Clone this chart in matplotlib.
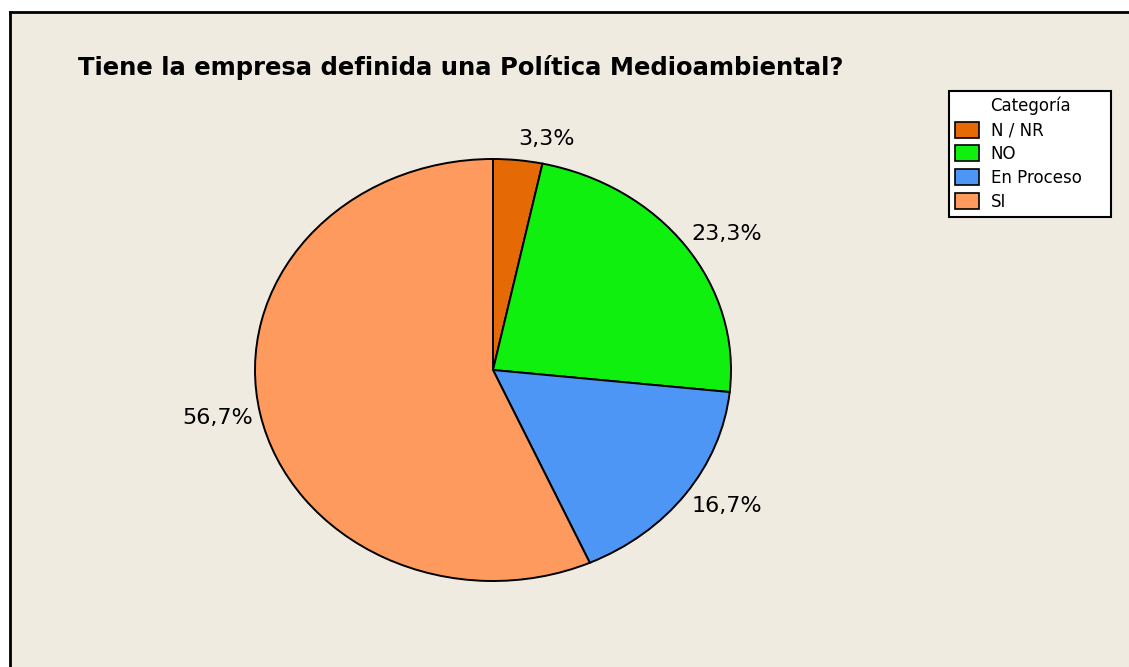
import numpy as np
import matplotlib.pyplot as plt
from matplotlib.patches import Patch

# data
categorias = ['N / NR', 'NO', 'En Proceso', 'SI']
valores = [1, 7, 5, 17]
etiquetas = ['3,3%', '23,3%', '16,7%', '56,7%']
colores = ['#E56A06', '#0FF00F', '#4D96F5', '#FF9A5E']

W, H = 1129, 667
fondo = '#EFEBE1'

fig = plt.figure(figsize=(W / 100, H / 100), dpi=100, facecolor='white')

# beige panel with black left/top border
bg = fig.add_axes([10 / W, 0, 1 - 10 / W, 1 - 12 / H])
bg.set_facecolor(fondo)
bg.set_xticks([])
bg.set_yticks([])
for s in ['right', 'bottom']:
    bg.spines[s].set_visible(False)
for s in ['left', 'top']:
    bg.spines[s].set_linewidth(2)
    bg.spines[s].set_color('black')

# pie (elliptical, like the original)
cx, cy, rx, ry = 493, 370, 238, 211
ax = fig.add_axes([(cx - rx) / W, (H - cy - ry) / H, 2 * rx / W, 2 * ry / H])
wedges, texts = ax.pie(valores, labels=etiquetas, colors=colores, startangle=90,
                       counterclock=False, labeldistance=1.07,
                       wedgeprops=dict(edgecolor='black', linewidth=1.4),
                       textprops=dict(fontsize=16, family='DejaVu Sans'))
ax.set_aspect('auto')
ax.set_xlim(-1, 1)
ax.set_ylim(-1, 1)
ax.patch.set_visible(False)

# push labels a bit further out vertically than horizontally
for w, t in zip(wedges, texts):
    ang = np.deg2rad((w.theta1 + w.theta2) / 2)
    t.set_position((1.03 * np.cos(ang), 1.10 * np.sin(ang)))

fig.text(78 / W, 1 - 68 / H, 'Tiene la empresa definida una Política Medioambiental?',
         fontsize=17.5, fontweight='bold', family='DejaVu Sans', va='center', ha='left')

handles = [Patch(facecolor=c, edgecolor='black', linewidth=1.2) for c in colores]
leg = fig.legend(handles, categorias, title='Categoría', loc='upper left',
                 bbox_to_anchor=(949 / W, 1 - 218 / H, 162 / W, 127 / H), mode='expand',
                 frameon=True, fancybox=False,
                 handlelength=1.45, handleheight=1.1,
                 handletextpad=0.7, labelspacing=0.35, borderpad=0.35, borderaxespad=0,
                 prop=dict(family='DejaVu Sans', size=12))
leg.get_frame().set_edgecolor('black')
leg.get_frame().set_linewidth(1.5)
leg.get_frame().set_facecolor('white')
leg.get_frame().set_alpha(1)
leg.get_title().set_family('DejaVu Sans')
leg.get_title().set_fontsize(12)

fig.savefig('out.png', dpi=100, facecolor='white')
